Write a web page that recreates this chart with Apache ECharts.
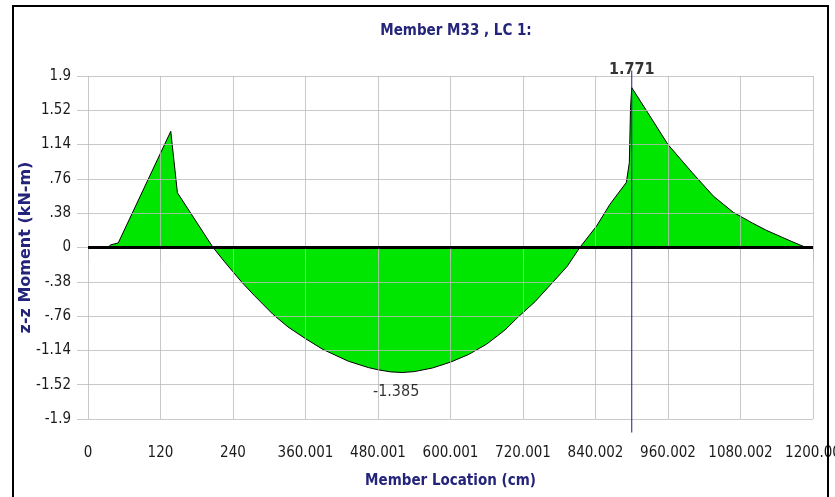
<!DOCTYPE html>
<html>
<head>
<meta charset="utf-8">
<script src="https://cdn.jsdelivr.net/npm/echarts@6/dist/echarts.min.js"></script>
<style>
  html, body { margin: 0; padding: 0; background: #fff; }
  #chart { width: 835px; height: 497px; }
</style>
</head>
<body>
<div id="chart"></div>
<script>
// member location (cm) and z-z moment (kN-m)
const locations = [0, 33, 38, 50, 137, 148, 207, 225, 240, 254, 275, 306, 331, 360, 389, 431, 464, 480, 501, 520, 540, 570, 600, 630, 660, 690, 712, 740, 770, 793, 814, 842, 864, 891, 896, 898, 900, 924, 960, 1000, 1035, 1068, 1100, 1123, 1150, 1167, 1185, 1200]
const moments = [0, 0.005, 0.03, 0.05, 1.287, 0.607, 0, -0.15, -0.27, -0.38, -0.53, -0.74, -0.88, -1.01, -1.13, -1.26, -1.33, -1.355, -1.378, -1.385, -1.375, -1.335, -1.27, -1.185, -1.07, -0.915, -0.77, -0.6, -0.38, -0.21, 0, 0.24, 0.48, 0.72, 0.94, 1.55, 1.771, 1.52, 1.14, 0.83, 0.57, 0.39, 0.27, 0.19, 0.11, 0.06, 0.01, 0]

// extreme values shown on the diagram
const maxPoint = [900, 1.771]
const minPoint = [510, -1.385]
// vertical marker at the max location (value range it spans)
const markerSpan = [1.96, -2.05]

const xTickLabels = ['0', '120', '240', '360.001', '480.001', '600.001', '720.001', '840.002', '960.002', '1080.002', '1200.00']
const yTickLabels = ['-1.9', '-1.52', '-1.14', '-.76', '-.38', '0', '.38', '.76', '1.14', '1.52', '1.9']

const narrow = "'Liberation Sans Narrow', 'DejaVu Sans Condensed', sans-serif"
const navy = '#24247a'
const gridGray = 'rgba(188,188,188,0.8)'

const chart = echarts.init(document.getElementById('chart'))

const options = {
  backgroundColor: '#fff',
  animation: false,
  title: {
    text: 'Member M33 , LC 1:',
    left: 451,
    top: 19,
    textAlign: 'center',
    textStyle: { fontFamily: narrow, fontSize: 15, fontWeight: 'bold', color: navy }
  },
  grid: { left: 88, right: 22, top: 76, bottom: 78, outerBoundsMode: 'none' },
  xAxis: {
    type: 'value',
    min: 0,
    max: 1200,
    interval: 120,
    z: 3,
    name: 'Member Location (cm)',
    nameLocation: 'middle',
    nameGap: 55,
    nameMoveOverlap: false,
    nameTextStyle: { fontFamily: narrow, fontSize: 15, fontWeight: 'bold', color: navy },
    axisLine: { show: false },
    axisTick: { show: true, length: 14, lineStyle: { color: gridGray } },
    axisLabel: {
      margin: 27,
      fontFamily: narrow,
      fontSize: 15,
      color: '#1a1a1a',
      formatter: (v) => xTickLabels[Math.round(v / 120)]
    },
    splitLine: { show: true, lineStyle: { color: gridGray, width: 1 } }
  },
  yAxis: {
    type: 'value',
    min: -1.9,
    max: 1.9,
    interval: 0.38,
    z: 3,
    name: 'z-z Moment (kN-m)',
    nameLocation: 'middle',
    nameGap: 54,
    nameMoveOverlap: false,
    nameTextStyle: { fontFamily: "'DejaVu Sans', sans-serif", fontSize: 16, fontWeight: 'bold', color: navy },
    axisLine: { show: false },
    axisTick: { show: true, length: 11, lineStyle: { color: gridGray } },
    axisLabel: {
      margin: 17,
      fontFamily: narrow,
      fontSize: 15,
      color: '#1a1a1a',
      formatter: (v) => yTickLabels[Math.round((v + 1.9) / 0.38)]
    },
    splitLine: { show: true, lineStyle: { color: gridGray, width: 1 } }
  },
  series: [
    {
      type: 'line',
      data: locations.map((x, i) => [x, moments[i]]),
      symbol: 'none',
      z: 2,
      lineStyle: { color: '#000', width: 1 },
      areaStyle: { color: '#00e600', opacity: 1 }
    },
    {
      // zero line
      type: 'line',
      data: [[0, 0], [1200, 0]],
      symbol: 'none',
      z: 6,
      lineStyle: { color: '#000', width: 3 }
    },
    {
      // marker at max location
      type: 'line',
      data: markerSpan.map(v => [maxPoint[0], v]),
      symbol: 'none',
      clip: false,
      z: 5,
      lineStyle: { color: '#1c1c8c', width: 1 }
    },
    {
      type: 'scatter',
      data: [maxPoint],
      symbolSize: 0,
      z: 7,
      label: {
        show: true,
        position: 'top',
        distance: 10,
        formatter: (p) => p.value[1].toFixed(3),
        fontFamily: narrow,
        fontSize: 16,
        fontWeight: 'bold',
        color: '#000'
      }
    },
    {
      type: 'scatter',
      data: [minPoint],
      symbolSize: 0,
      z: 7,
      label: {
        show: true,
        position: 'bottom',
        distance: 11,
        formatter: (p) => p.value[1].toFixed(3),
        fontFamily: narrow,
        fontSize: 16,
        color: '#000'
      }
    }
  ],
  graphic: [
    {
      type: 'rect',
      shape: { x: 13, y: 6, width: 815, height: 500 },
      style: { fill: 'none', stroke: '#000', lineWidth: 2 },
      z: 10
    }
  ]
}

chart.setOption(options)
</script>
</body>
</html>
